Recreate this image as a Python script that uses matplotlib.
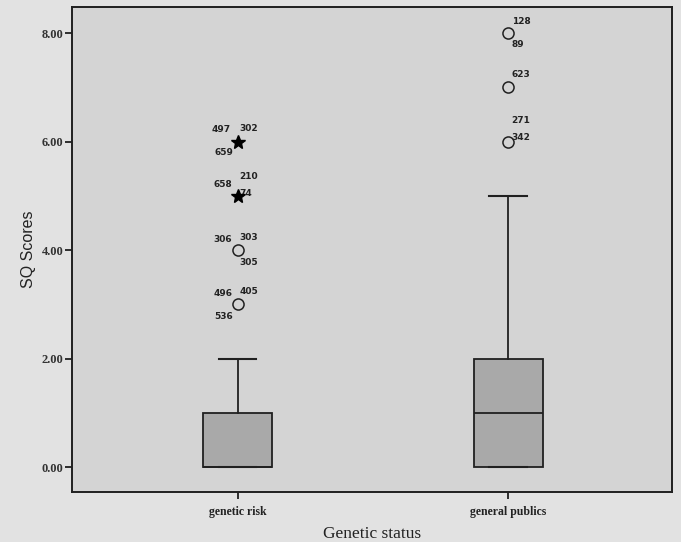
"""
SQ scores by genetic status - SPSS style boxplot recreation
"""

import matplotlib.pyplot as plt

# =============================================================================
# Data
# =============================================================================

groups = ['genetic risk', 'general publics']
q1 = [0.0, 0.0]
medians = [0.0, 1.0]
q3 = [1.0, 2.0]
whisker_lo = [0.0, 0.0]
whisker_hi = [2.0, 5.0]

# outliers: (group index, value, kind)  kind: 'o' outlier, '*' extreme
outlier_group = [0, 0, 0, 0, 1, 1, 1]
outlier_value = [6.0, 5.0, 4.0, 3.0, 8.0, 7.0, 6.0]
outlier_kind = ['*', '*', 'o', 'o', 'o', 'o', 'o']

# case labels around each outlier point: (text, dx px, dy px)
outlier_cases = [
    [('497', -16, 12), ('302', 11, 13), ('659', -14, -11)],
    [('658', -15, 11), ('210', 11, 19), ('74', 8, 2)],
    [('306', -15, 11), ('303', 11, 13), ('305', 11, -12)],
    [('496', -14, 11), ('405', 11, 13), ('536', -14, -12)],
    [('128', 13, 12), ('89', 10, -11)],
    [('623', 13, 13)],
    [('271', 13, 21), ('342', 13, 4)],
]

yticks = [0, 2, 4, 6, 8]

# =============================================================================
# Styling
# =============================================================================

FIG_BG = '#e2e2e2'
AX_BG = '#d4d4d4'
BOX_COLOR = '#a9a9a9'
LINE = '#202020'
SERIF = 'Liberation Serif'

fig = plt.figure(figsize=(6.81, 5.42), dpi=100, facecolor=FIG_BG)
ax = fig.add_axes([0.1057, 0.0923, 0.881, 0.8947])
ax.set_facecolor(AX_BG)

positions = [1, 2]
stats = []
for i, g in enumerate(groups):
    stats.append({'label': g, 'q1': q1[i], 'med': medians[i], 'q3': q3[i],
                  'whislo': whisker_lo[i], 'whishi': whisker_hi[i], 'fliers': []})

ax.bxp(stats, positions=positions, widths=0.255, patch_artist=True,
       showfliers=False,
       boxprops=dict(facecolor=BOX_COLOR, edgecolor=LINE, linewidth=1.3),
       medianprops=dict(color=LINE, linewidth=1.3),
       whiskerprops=dict(color=LINE, linewidth=1.3),
       capprops=dict(color=LINE, linewidth=1.5),
       capwidths=0.14)

# outliers and case numbers
for k, (gi, val, kind) in enumerate(zip(outlier_group, outlier_value, outlier_kind)):
    x = positions[gi]
    if kind == '*':
        ax.plot(x, val, marker='*', color='black', markersize=10, zorder=5)
    else:
        ax.plot(x, val, marker='o', markerfacecolor='none',
                markeredgecolor=LINE, markersize=8, markeredgewidth=1.1, zorder=5)
    for txt, dx, dy in outlier_cases[k]:
        ax.annotate(txt, (x, val), xytext=(dx, dy), textcoords='offset pixels',
                    ha='center', va='center', fontsize=6.5, fontweight='bold',
                    fontfamily='DejaVu Sans', color='#222222')

ax.set_xlim(0.388, 2.606)
ax.set_ylim(-0.46, 8.48)

ax.set_yticks(yticks)
ax.set_yticklabels([f'{v:.2f}' for v in yticks], fontsize=9, fontweight='bold',
                   fontfamily=SERIF, color='#333333')
ax.set_xticks(positions)
ax.set_xticklabels(groups, fontsize=8.5, fontweight='bold', fontfamily=SERIF,
                   color='#222222')
ax.tick_params(axis='both', direction='out', length=5, width=1.3, color=LINE)
ax.tick_params(axis='y', pad=1)
ax.tick_params(axis='x', pad=5)

for s in ax.spines.values():
    s.set_linewidth(1.4)
    s.set_color(LINE)

ax.set_ylabel('SQ Scores', fontsize=11.5, fontfamily='Liberation Sans',
              color='#222222', labelpad=4)
ax.set_xlabel('Genetic status', fontsize=12.5, fontfamily=SERIF,
              color='#222222', labelpad=6)

fig.savefig('out.png', dpi=100, facecolor=FIG_BG)
